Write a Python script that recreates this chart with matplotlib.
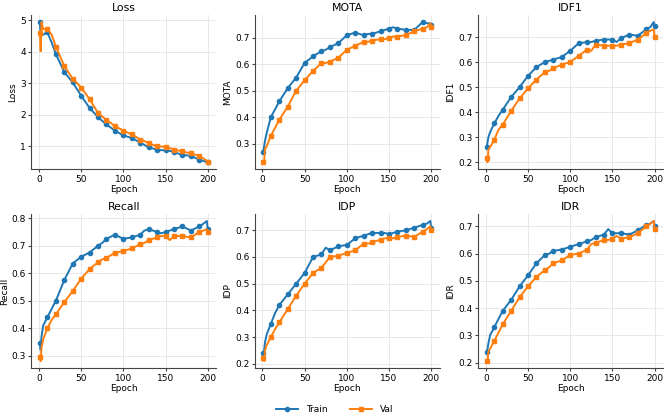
import numpy as np
import matplotlib
matplotlib.use('Agg')
from matplotlib import pyplot as plt

epochs = [1, 2, 3, 5, 10, 15, 20, 30, 40, 50, 60, 70, 75, 80, 90, 100, 110, 120, 125,
          130, 140, 145, 150, 155, 160, 170, 180, 190, 195, 199, 200]

loss_train = [4.95, 4.50, 4.52, 4.55, 4.62, 4.30, 3.93, 3.36, 3.03, 2.61, 2.22, 1.93, 1.81, 1.70,
              1.50, 1.35, 1.27, 1.12, 1.05, 0.97, 0.90, 0.88, 0.88, 0.86, 0.82, 0.73, 0.70,
              0.58, 0.54, 0.50, 0.50]
loss_val = [4.60, 4.02, 4.95, 4.72, 4.72, 4.55, 4.17, 3.55, 3.15, 2.87, 2.50, 2.06, 1.95, 1.84,
            1.65, 1.50, 1.38, 1.22, 1.17, 1.10, 1.00, 1.00, 0.98, 0.95, 0.90, 0.84, 0.78,
            0.70, 0.62, 0.54, 0.52]

mota_train = [0.27, 0.29, 0.31, 0.34, 0.40, 0.43, 0.46, 0.51, 0.55, 0.605, 0.63, 0.65, 0.655, 0.665,
              0.68, 0.71, 0.72, 0.71, 0.715, 0.715, 0.725, 0.73, 0.735, 0.74, 0.735, 0.73, 0.73,
              0.76, 0.755, 0.755, 0.75]
mota_val = [0.23, 0.23, 0.28, 0.29, 0.33, 0.36, 0.39, 0.44, 0.50, 0.54, 0.575, 0.605, 0.605, 0.61,
            0.625, 0.655, 0.67, 0.685, 0.685, 0.69, 0.695, 0.695, 0.70, 0.705, 0.705, 0.71, 0.725,
            0.735, 0.74, 0.755, 0.74]

idf1_train = [0.26, 0.28, 0.30, 0.32, 0.355, 0.385, 0.41, 0.46, 0.50, 0.545, 0.58, 0.60, 0.605, 0.61,
              0.62, 0.645, 0.675, 0.68, 0.68, 0.685, 0.69, 0.69, 0.69, 0.68, 0.695, 0.71, 0.705,
              0.73, 0.74, 0.76, 0.745]
idf1_val = [0.215, 0.20, 0.25, 0.26, 0.29, 0.33, 0.35, 0.405, 0.455, 0.495, 0.53, 0.56, 0.565, 0.575,
            0.59, 0.60, 0.625, 0.65, 0.645, 0.67, 0.665, 0.665, 0.665, 0.665, 0.67, 0.675, 0.69,
            0.715, 0.725, 0.73, 0.70]

recall_train = [0.345, 0.32, 0.37, 0.41, 0.44, 0.47, 0.50, 0.575, 0.635, 0.66, 0.675, 0.70, 0.71, 0.725,
                0.74, 0.725, 0.73, 0.74, 0.755, 0.76, 0.75, 0.745, 0.75, 0.755, 0.76, 0.77, 0.755,
                0.77, 0.78, 0.79, 0.76]
recall_val = [0.295, 0.28, 0.33, 0.36, 0.40, 0.43, 0.45, 0.495, 0.535, 0.58, 0.615, 0.64, 0.65, 0.655,
              0.675, 0.68, 0.69, 0.705, 0.71, 0.72, 0.73, 0.735, 0.735, 0.72, 0.735, 0.735, 0.73,
              0.75, 0.755, 0.76, 0.75]

idp_train = [0.24, 0.25, 0.28, 0.31, 0.35, 0.39, 0.42, 0.46, 0.50, 0.54, 0.60, 0.61, 0.635, 0.625,
             0.64, 0.645, 0.67, 0.68, 0.685, 0.69, 0.69, 0.69, 0.685, 0.69, 0.695, 0.70, 0.71,
             0.72, 0.725, 0.735, 0.71]
idp_val = [0.22, 0.21, 0.25, 0.27, 0.30, 0.33, 0.355, 0.405, 0.455, 0.50, 0.54, 0.56, 0.58, 0.60,
           0.605, 0.615, 0.625, 0.65, 0.65, 0.655, 0.665, 0.67, 0.67, 0.67, 0.675, 0.68, 0.675,
           0.695, 0.705, 0.715, 0.70]

idr_train = [0.24, 0.25, 0.27, 0.30, 0.33, 0.36, 0.39, 0.43, 0.48, 0.52, 0.565, 0.595, 0.60, 0.61,
             0.615, 0.625, 0.635, 0.645, 0.65, 0.66, 0.67, 0.69, 0.675, 0.675, 0.675, 0.67, 0.685,
             0.705, 0.71, 0.72, 0.70]
idr_val = [0.205, 0.205, 0.24, 0.25, 0.28, 0.31, 0.34, 0.39, 0.44, 0.48, 0.515, 0.54, 0.55, 0.565,
           0.575, 0.595, 0.60, 0.615, 0.635, 0.64, 0.65, 0.65, 0.655, 0.665, 0.655, 0.66, 0.675,
           0.70, 0.71, 0.72, 0.69]

metrics = [('Loss', loss_train, loss_val),
           ('MOTA', mota_train, mota_val),
           ('IDF1', idf1_train, idf1_val),
           ('Recall', recall_train, recall_val),
           ('IDP', idp_train, idp_val),
           ('IDR', idr_train, idr_val)]

# markers roughly every 10 epochs
marks = [i for i, e in enumerate(epochs) if e == 1 or e % 10 == 0]

fig, axes = plt.subplots(2, 3, figsize=(6.69, 4.16), dpi=100)
fig.subplots_adjust(left=0.047, right=0.991, top=0.964, bottom=0.115, wspace=0.21, hspace=0.29)

for ax, (name, tr, va) in zip(axes.flat, metrics):
    ax.plot(epochs, tr, color='#1f77b4', lw=1.4, marker='o', ms=3, markevery=marks, label='Train')
    ax.plot(epochs, va, color='#ff7f0e', lw=1.4, marker='s', ms=3, markevery=marks, label='Val')
    ax.set_title(name, fontsize=7.8, pad=3)
    ax.set_xlabel('Epoch', fontsize=6.5, labelpad=1)
    ax.set_ylabel(name, fontsize=6.5, labelpad=2)
    ax.tick_params(labelsize=6.5, length=2.5, pad=1.5, color='#444444')
    ax.set_xticks([0, 50, 100, 150, 200])
    ax.grid(True, color='#e8e8e8', lw=0.7)
    ax.set_axisbelow(True)
    for s in ['top', 'right']:
        ax.spines[s].set_visible(False)
    for s in ['left', 'bottom']:
        ax.spines[s].set_color('#444444')

handles, labels = axes[0, 0].get_legend_handles_labels()
fig.legend(handles, labels, loc='lower center', ncol=2, frameon=False, fontsize=6.5,
           bbox_to_anchor=(0.5, -0.015), handlelength=2.5, columnspacing=2.5)

plt.savefig('out.png', dpi=100)
